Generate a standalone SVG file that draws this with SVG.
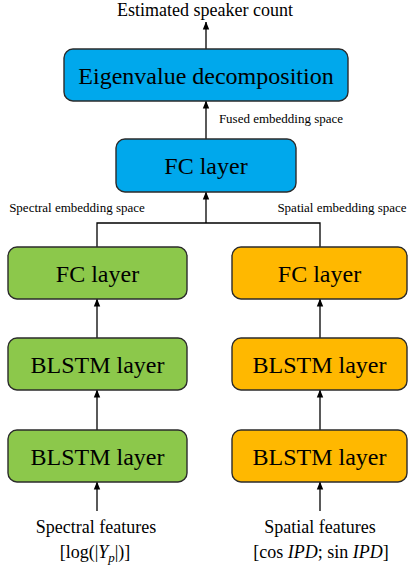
<svg xmlns="http://www.w3.org/2000/svg" width="408" height="578" viewBox="0 0 408 578">
<style>
.box{stroke:#2b2b2b;stroke-width:1.4}
.blue{fill:#00A8EC}
.green{fill:#8CC84B}
.orange{fill:#FFB800}
.t{font-family:"Liberation Serif","Times New Roman",serif;fill:#000;text-anchor:middle}
.big{font-size:24px}
.mid{font-size:18px}
.sm{font-size:13px}
.c{stroke:#000;stroke-width:1.3;fill:none}
</style>
<defs>
<marker id="ah" viewBox="0 0 8 8" refX="7.5" refY="4" markerWidth="8" markerHeight="8" markerUnits="userSpaceOnUse" orient="auto">
<path d="M0,0.8 L8,4 L0,7.2 Z" fill="#000"/>
</marker>
</defs>
<rect width="408" height="578" fill="#fff"/>
<g id="connectors">
<line class="c" x1="206" y1="49" x2="206" y2="22" marker-end="url(#ah)"/>
<line class="c" x1="206" y1="139" x2="206" y2="101" marker-end="url(#ah)"/>
<line class="c" x1="206" y1="223" x2="206" y2="192" marker-end="url(#ah)"/>
<polyline class="c" points="97,247 97,223 320,223 320,247"/>
<line class="c" x1="97" y1="338" x2="97" y2="299" marker-end="url(#ah)"/>
<line class="c" x1="320" y1="338" x2="320" y2="299" marker-end="url(#ah)"/>
<line class="c" x1="97" y1="430" x2="97" y2="390" marker-end="url(#ah)"/>
<line class="c" x1="320" y1="430" x2="320" y2="390" marker-end="url(#ah)"/>
<line class="c" x1="97" y1="511" x2="97" y2="482" marker-end="url(#ah)"/>
<line class="c" x1="320" y1="511" x2="320" y2="482" marker-end="url(#ah)"/>
</g>
<g id="labels">
<text class="t mid" x="205" y="16">Estimated speaker count</text>
<text class="t sm" x="281" y="123">Fused embedding space</text>
<text class="t sm" x="77" y="212">Spectral embedding space</text>
<text class="t sm" x="342" y="212">Spatial embedding space</text>
</g>
<g id="eigen">
<rect class="box blue" x="64" y="49" width="284" height="52" rx="9"/>
<text class="t big" x="206" y="83.5">Eigenvalue decomposition</text>
</g>
<g id="fc-fused">
<rect class="box blue" x="116" y="139" width="180" height="53" rx="9"/>
<text class="t big" x="206" y="174">FC layer</text>
</g>
<g id="fc-spectral">
<rect class="box green" x="8" y="247" width="179" height="52" rx="9"/>
<text class="t big" x="97.5" y="281.5">FC layer</text>
</g>
<g id="fc-spatial">
<rect class="box orange" x="232" y="247" width="175" height="52" rx="9"/>
<text class="t big" x="319.5" y="281.5">FC layer</text>
</g>
<g id="blstm2-spectral">
<rect class="box green" x="8" y="338" width="179" height="52" rx="9"/>
<text class="t big" x="97.5" y="372.5">BLSTM layer</text>
</g>
<g id="blstm2-spatial">
<rect class="box orange" x="232" y="338" width="175" height="52" rx="9"/>
<text class="t big" x="319.5" y="372.5">BLSTM layer</text>
</g>
<g id="blstm1-spectral">
<rect class="box green" x="8" y="430" width="179" height="52" rx="9"/>
<text class="t big" x="97.5" y="464.5">BLSTM layer</text>
</g>
<g id="blstm1-spatial">
<rect class="box orange" x="232" y="430" width="175" height="52" rx="9"/>
<text class="t big" x="319.5" y="464.5">BLSTM layer</text>
</g>
<g id="input-spectral">
<text class="t mid" x="96" y="533">Spectral features</text>
<text class="t mid" x="95" y="558">[log(|<tspan font-style="italic">Y</tspan><tspan font-style="italic" font-size="13px" dy="4">p</tspan><tspan dy="-4">|)]</tspan></text>
</g>
<g id="input-spatial">
<text class="t mid" x="320" y="533">Spatial features</text>
<text class="t mid" x="321" y="558">[cos <tspan font-style="italic">IPD</tspan>; sin <tspan font-style="italic">IPD</tspan>]</text>
</g>
</svg>
